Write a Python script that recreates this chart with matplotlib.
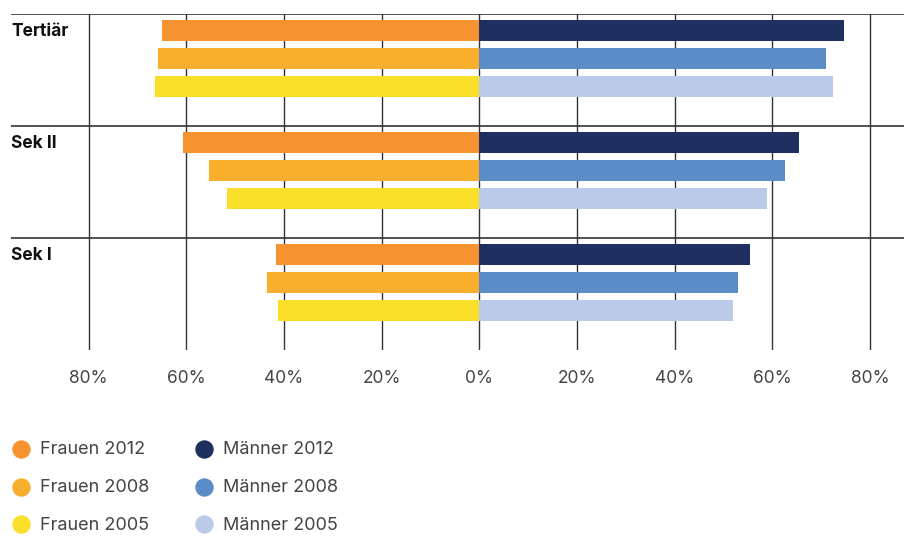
import numpy as np
import matplotlib
matplotlib.use("Agg")
import matplotlib.pyplot as plt

plt.rcParams['font.family'] = ['Inter', 'DejaVu Sans']

# data (percent)
gruppen = ['Tertiär', 'Sek II', 'Sek I']
frauen_2012 = [65.0, 60.7, 41.6]
frauen_2008 = [65.8, 55.3, 43.5]
frauen_2005 = [66.4, 51.7, 41.2]
maenner_2012 = [74.7, 65.4, 55.4]
maenner_2008 = [70.9, 62.5, 52.9]
maenner_2005 = [72.4, 58.9, 51.9]
ticks = [-80, -60, -40, -20, 0, 20, 40, 60, 80]
tick_labels = ['80%', '60%', '40%', '20%', '0%', '20%', '40%', '60%', '80%']

c_f = ['#F6922F', '#F9AF2C', '#F9DF29']
c_m = ['#1E2F60', '#5A8CC8', '#BACAE8']
lab_f = ['Frauen 2012', 'Frauen 2008', 'Frauen 2005']
lab_m = ['Männer 2012', 'Männer 2008', 'Männer 2005']

W, H = 909, 536
fig = plt.figure(figsize=(W / 100, H / 100), dpi=100)
# axes area in pixels: x 11..904, y 13.5..349.5
ax = fig.add_axes([11 / W, 1 - 349.5 / H, (904 - 11) / W, (349.5 - 13.5) / H])
xmin = (11 - 479.3) / 4.885
xmax = (904 - 479.3) / 4.885
ax.set_xlim(xmin, xmax)
ax.set_ylim(3, 0)

frauen = [frauen_2012, frauen_2008, frauen_2005]
maenner = [maenner_2012, maenner_2008, maenner_2005]
g = np.arange(len(gruppen))
for k in range(3):
    y = g + 0.152 + k * 0.25
    ax.barh(y, -np.array(frauen[k]), height=0.1875, color=c_f[k], zorder=3)
    ax.barh(y, maenner[k], height=0.1875, color=c_m[k], zorder=3)

for t in ticks:
    ax.vlines(t, 0, 3, color='#333333', lw=1, zorder=1)
for i in range(3):
    ax.hlines(i, xmin, xmax, color='#333333', lw=1.2, zorder=1)
    ax.text(xmin, i + 0.165, gruppen[i], ha='left', va='center',
            fontsize=12.5, fontweight='bold', color='#111111')

for s in ax.spines.values():
    s.set_visible(False)
ax.set_yticks([])
ax.set_xticks(ticks)
ax.set_xticklabels(tick_labels, fontsize=12.5, color='#444444')
ax.tick_params(axis='x', length=0, pad=15)

# legend
lx = fig.add_axes([0, 0, 1, 1])
lx.set_xlim(0, W)
lx.set_ylim(H, 0)
lx.axis('off')
rows = [449, 487, 524]
for k in range(3):
    lx.scatter(21, rows[k], s=150, color=c_f[k])
    lx.text(40, rows[k] + 1, lab_f[k], va='center', ha='left', fontsize=13, color='#444444')
    lx.scatter(204, rows[k], s=150, color=c_m[k])
    lx.text(223, rows[k] + 1, lab_m[k], va='center', ha='left', fontsize=13, color='#444444')

fig.savefig('out.png', dpi=100)
